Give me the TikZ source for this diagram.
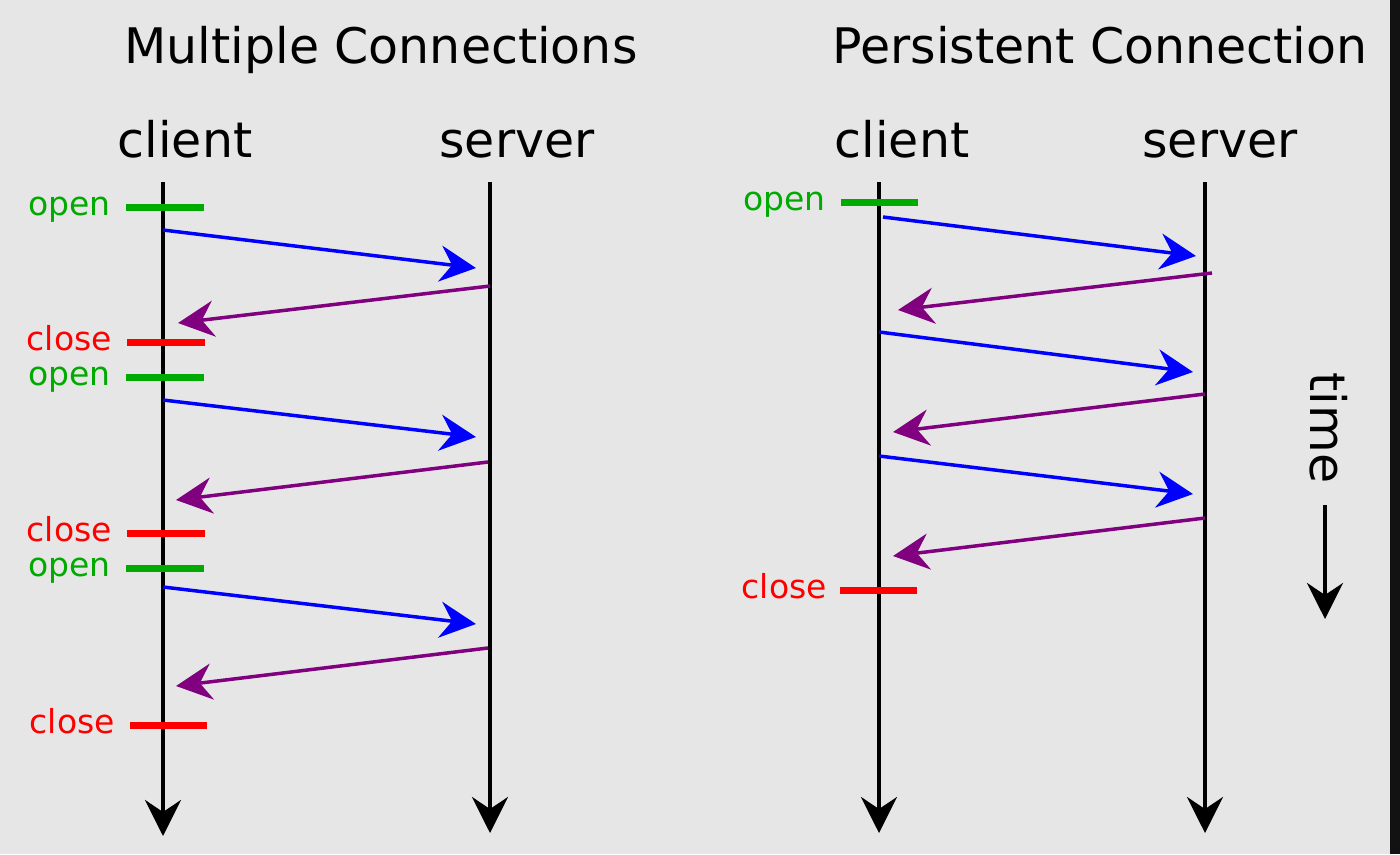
\documentclass[tikz,border=0pt]{standalone}
\usepackage{fontspec}
\setmainfont{DejaVu Sans}
\usetikzlibrary{arrows.meta}
\definecolor{bg}{RGB}{230,230,230}
\definecolor{ogreen}{RGB}{0,170,0}
\definecolor{cred}{RGB}{255,0,0}
\definecolor{mblue}{RGB}{0,0,255}
\definecolor{mpurple}{RGB}{128,0,128}
\tikzset{
  x=1pt, y=-1pt,
  bigtxt/.style={font=\fontsize{49}{55}\selectfont, inner sep=0pt, anchor=base},
  smalltxt/.style={font=\fontsize{33}{38}\selectfont, inner sep=0pt, anchor=base east},
  tip/.style={-{Stealth[length=36pt,width=36pt,inset=12pt]}},
  life/.style={line width=4pt, black, tip},
  req/.style={line width=3.5pt, mblue, tip},
  resp/.style={line width=3.5pt, mpurple, tip},
  opentick/.style={line width=7pt, ogreen},
  closetick/.style={line width=7pt, cred},
}
\begin{document}
\begin{tikzpicture}
\fill[bg] (0,0) rectangle (1400,854);
\fill[black!93] (1390,0) rectangle (1400,854);
\useasboundingbox (0,0) rectangle (1400,854);

% titles
\node[bigtxt] (t1) at (381,63) {Multiple Connections};
\node[bigtxt] (t2) at (1100,63) {Persistent Connection};
\node[bigtxt] (c1) at (185,157) {client};
\node[bigtxt] (s1) at (517,157) {server};
\node[bigtxt] (c2) at (902,157) {client};
\node[bigtxt] (s2) at (1220,157) {server};

% lifelines
\coordinate (c1top) at (163,182); \coordinate (c1bot) at (163,836);
\coordinate (s1top) at (490,182); \coordinate (s1bot) at (490,833);
\coordinate (c2top) at (879,182); \coordinate (c2bot) at (879,833);
\coordinate (s2top) at (1205,182); \coordinate (s2bot) at (1205,833);
\draw[life] (c1top) -- (c1bot);
\draw[life] (s1top) -- (s1bot);
\draw[life] (c2top) -- (c2bot);
\draw[life] (s2top) -- (s2bot);

% left panel ticks
\coordinate (o1a) at (126,207); \coordinate (o1b) at (204,207);
\coordinate (x1a) at (127,342); \coordinate (x1b) at (205,342);
\coordinate (o2a) at (126,377); \coordinate (o2b) at (204,377);
\coordinate (x2a) at (127,533); \coordinate (x2b) at (205,533);
\coordinate (o3a) at (126,568); \coordinate (o3b) at (204,568);
\coordinate (x3a) at (130,725); \coordinate (x3b) at (207,725);
\draw[opentick] (o1a) -- (o1b);
\draw[closetick] (x1a) -- (x1b);
\draw[opentick] (o2a) -- (o2b);
\draw[closetick] (x2a) -- (x2b);
\draw[opentick] (o3a) -- (o3b);
\draw[closetick] (x3a) -- (x3b);
\node[smalltxt, ogreen] (lo1) at (111,215) {open};
\node[smalltxt, cred] (lx1) at (112,350) {close};
\node[smalltxt, ogreen] (lo2) at (111,385) {open};
\node[smalltxt, cred] (lx2) at (112,541) {close};
\node[smalltxt, ogreen] (lo3) at (111,576) {open};
\node[smalltxt, cred] (lx3) at (115,733) {close};

% left panel messages
\coordinate (a1s) at (163,230); \coordinate (a1e) at (476,268);
\coordinate (b1s) at (490,286); \coordinate (b1e) at (178,323);
\coordinate (a2s) at (163,400); \coordinate (a2e) at (476,437);
\coordinate (b2s) at (488,462); \coordinate (b2e) at (176,500);
\coordinate (a3s) at (163,587); \coordinate (a3e) at (476,624);
\coordinate (b3s) at (488,648); \coordinate (b3e) at (176,686);
\draw[req] (a1s) -- (a1e);
\draw[resp] (b1s) -- (b1e);
\draw[req] (a2s) -- (a2e);
\draw[resp] (b2s) -- (b2e);
\draw[req] (a3s) -- (a3e);
\draw[resp] (b3s) -- (b3e);

% right panel ticks
\coordinate (po1) at (841,202); \coordinate (po2) at (918,202);
\coordinate (px1) at (840,590); \coordinate (px2) at (917,590);
\draw[opentick] (po1) -- (po2);
\draw[closetick] (px1) -- (px2);
\node[smalltxt, ogreen] (plo) at (826,210) {open};
\node[smalltxt, cred] (plx) at (827,598) {close};

% right panel messages
\coordinate (pa1s) at (883,217); \coordinate (pa1e) at (1196,256);
\coordinate (pb1s) at (1212,273); \coordinate (pb1e) at (898,310);
\coordinate (pa2s) at (879,332); \coordinate (pa2e) at (1193,372);
\coordinate (pb2s) at (1205,394); \coordinate (pb2e) at (893,432);
\coordinate (pa3s) at (879,456); \coordinate (pa3e) at (1193,494);
\coordinate (pb3s) at (1205,518); \coordinate (pb3e) at (893,556);
\draw[req] (pa1s) -- (pa1e);
\draw[resp] (pb1s) -- (pb1e);
\draw[req] (pa2s) -- (pa2e);
\draw[resp] (pb2s) -- (pb2e);
\draw[req] (pa3s) -- (pa3e);
\draw[resp] (pb3s) -- (pb3e);

% time
\node[font=\fontsize{49}{55}\selectfont, inner sep=0pt, rotate=-90, anchor=base] (time) at (1310,428) {time};
\coordinate (tt) at (1325,505); \coordinate (tb) at (1325,619);
\draw[life] (tt) -- (tb);
\end{tikzpicture}
\end{document}
